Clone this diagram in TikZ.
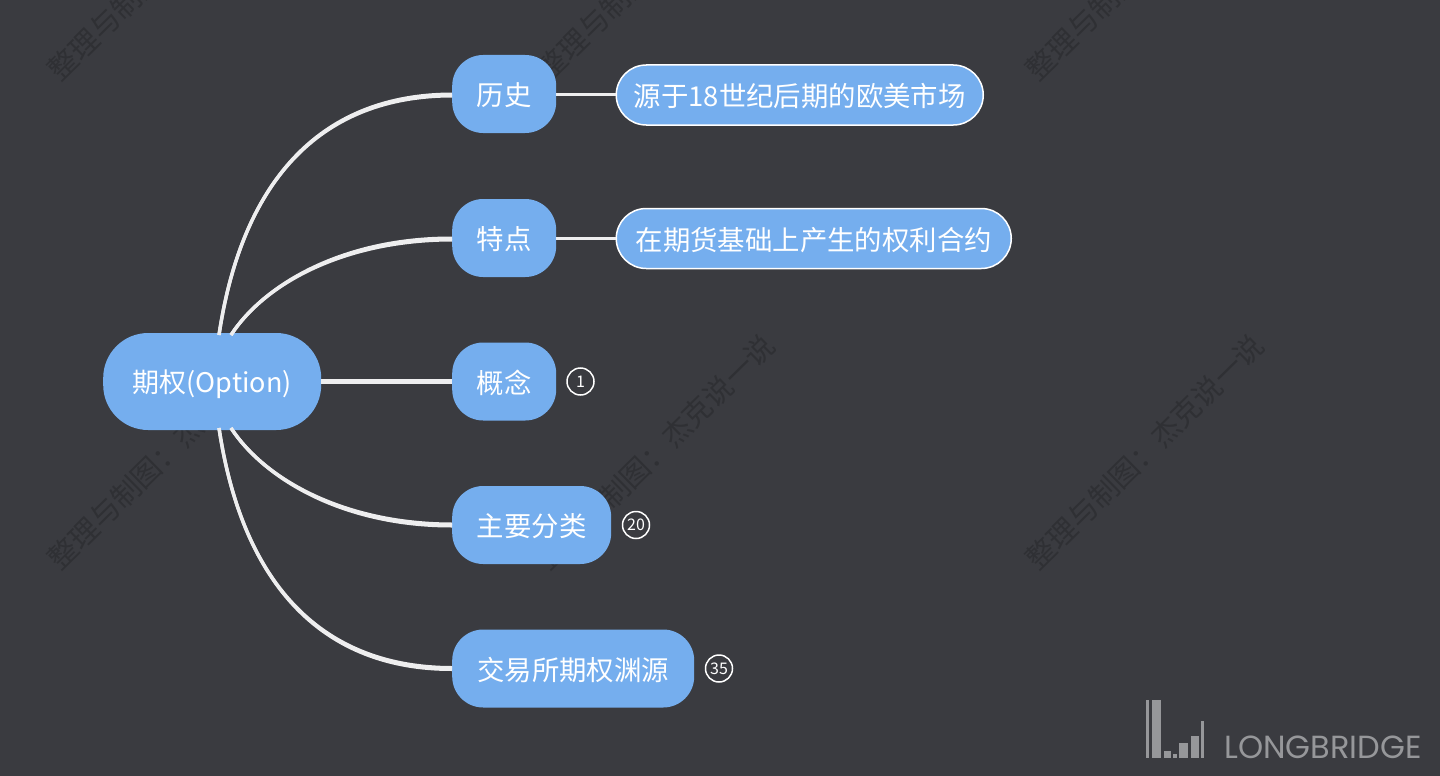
\documentclass[tikz,border=0pt]{standalone}
\usepackage{fontspec}
\setmainfont{Noto Sans CJK SC}
\newfontfamily\logofont{Poppins}
\definecolor{bgc}{HTML}{3A3B40}
\definecolor{nodec}{HTML}{75AEEE}
\definecolor{linec}{HTML}{EEEEEF}
\definecolor{wmc}{HTML}{2F3034}
\definecolor{logoc}{HTML}{96979A}
\newcommand{\lbl}[2][-1.5pt]{\raisebox{#1}[\height][\depth]{#2}}
\tikzset{
  x=1pt,y=-1pt,
  topic/.style={fill=nodec,text=white,rounded corners=31pt,minimum height=78pt,inner sep=0pt,anchor=west,font=\fontsize{27.4}{32}\selectfont},
  rootnode/.style={topic,rounded corners=45pt,minimum height=97pt,minimum width=218pt,font=\fontsize{27}{32}\selectfont},
  leaf/.style={fill=nodec,draw=white,line width=1.5pt,text=white,rounded corners=30pt,minimum height=60pt,inner sep=0pt,anchor=west,font=\fontsize{27.4}{32}\selectfont},
  badge/.style={circle,draw=white,line width=1.5pt,minimum size=27pt,inner sep=0pt,text=white,font=\fontsize{16}{16}\selectfont},
  wm/.style={text=wmc,rotate=44.5,inner sep=0pt,font=\fontsize{29}{32}\selectfont},
  conn/.style={draw=linec,line width=3.4pt},
  straightconn/.style={draw=linec,line width=4.4pt},
  leafconn/.style={draw=linec,line width=3pt},
  logobar/.style={fill=logoc,draw=none}
}
\begin{document}
\begin{tikzpicture}
\fill[bgc] (0,0) rectangle (1440,776);
\useasboundingbox (0,0) rectangle (1440,776);
% watermarks
\foreach \wx/\wy/\wn in {167/-37/a,656/-37/b,1145/-37/c,167/452/d,656/452/e,1145/452/f}{
  \node[wm] (wm\wn) at (\wx,\wy) {整理与制图：杰克说一说};
}
% connector end points on the root
\coordinate (ra) at (219,335);
\coordinate (rb) at (231,335);
\coordinate (rc) at (231,428);
\coordinate (rd) at (219,428);
% nodes
\node[rootnode] (root) at (103,381.5) {\lbl[-2.5pt]{期权(Option)}};
\node[topic,minimum width=104pt] (hist) at (452,94) {\lbl{历史}};
\node[topic,minimum width=104pt] (feat) at (452,238) {\lbl{特点}};
\node[topic,minimum width=104pt] (conc) at (452,381.5) {\lbl{概念}};
\node[topic,minimum width=159pt] (clas) at (452,525) {\lbl{主要分类}};
\node[topic,minimum width=242pt] (orig) at (452,668.5) {\lbl{交易所期权渊源}};
\node[leaf,minimum width=367pt] (histl) at (615.5,95) {\lbl{源于18世纪后期的欧美市场}};
\node[leaf,minimum width=395pt] (featl) at (615.5,238.5) {\lbl{在期货基础上产生的权利合约}};
\node[badge] (b1) at (580.5,381.5) {1};
\node[badge] (b2) at (636,525) {20};
\node[badge] (b3) at (719,668.5) {35};
% connectors (each drawn twice so that it widens towards the child)
\draw[conn] (ra) .. controls (243,175) and (325,94.5) .. ([yshift=-.2pt]hist.west);
\draw[conn] (ra) .. controls (243,175) and (325,96) .. ([yshift=-1.8pt]hist.west);
\draw[conn] (rb) .. controls (265,283) and (345,238) .. ([yshift=-.2pt]feat.west);
\draw[conn] (rb) .. controls (265,283) and (345,240) .. ([yshift=-1.8pt]feat.west);
\draw[straightconn] (root.east) -- (conc.west);
\draw[conn] (rc) .. controls (265,480) and (345,524) .. ([yshift=.8pt]clas.west);
\draw[conn] (rc) .. controls (265,480) and (345,526) .. ([yshift=-.8pt]clas.west);
\draw[conn] (rd) .. controls (243,588) and (325,667.5) .. ([yshift=.8pt]orig.west);
\draw[conn] (rd) .. controls (243,588) and (325,669.5) .. ([yshift=-.8pt]orig.west);
\draw[leafconn] (hist.east) -- (hist.east -| histl.west);
\draw[leafconn] (feat.east) -- (feat.east -| featl.west);
% logo
\fill[logobar] (1146,700) rectangle (1148.7,758);
\fill[logobar] (1152,700) rectangle (1160.7,758);
\fill[logobar] (1164,750.7) rectangle (1170.7,758);
\fill[logobar] (1173.3,754) rectangle (1176.7,758);
\fill[logobar] (1179.3,743.3) rectangle (1188,758);
\fill[logobar] (1191,736) rectangle (1198.7,758);
\fill[logobar] (1201.3,721.3) rectangle (1204,758);
\node[anchor=base west,inner sep=0pt,text=logoc,font=\logofont\fontsize{32}{32}\selectfont] (logo) at (1224,758) {LONGBRIDGE};
\end{tikzpicture}
\end{document}
